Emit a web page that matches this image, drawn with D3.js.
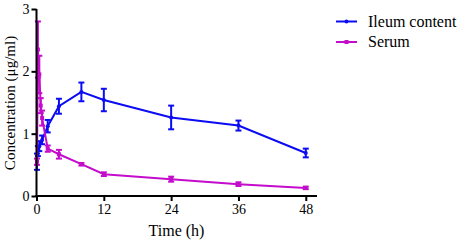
<!DOCTYPE html>
<html>
<head>
<meta charset="utf-8">
<script src="https://cdn.jsdelivr.net/npm/d3@7"></script>
</head>
<body style="margin:0;background:#fff">
<div id="graf"></div>
<script>
// Datos
const ileumTime = [0.083, 0.25, 0.5, 1, 2, 4, 8, 12, 24, 36, 48]
const ileumConc = [0.55, 0.72, 0.8, 0.9, 1.12, 1.44, 1.67, 1.54, 1.26, 1.13, 0.69]
const ileumErr = [0.13, 0.08, 0.08, 0.07, 0.1, 0.12, 0.15, 0.18, 0.19, 0.08, 0.07]

const serumTime = [0.083, 0.25, 0.5, 0.75, 1, 2, 4, 8, 12, 24, 36, 48]
const serumConc = [0.55, 2.35, 1.95, 1.45, 1.25, 0.76, 0.67, 0.51, 0.35, 0.27, 0.19, 0.13]
const serumErr = [0.05, 0.45, 0.3, 0.12, 0.12, 0.05, 0.07, 0.02, 0.03, 0.04, 0.03, 0.02]

const xTicks = [0, 12, 24, 36, 48]
const yTicks = [0, 1, 2, 3]

const series = [
  { name: "Ileum content", color: "#0c0cf2", marker: "circle", t: ileumTime, v: ileumConc, e: ileumErr },
  { name: "Serum", color: "#c40ccc", marker: "square", t: serumTime, v: serumConc, e: serumErr },
]

const fuente = "Liberation Serif"

// Dimensiones
const ancho = 459
const alto = 243

const svg = d3.select("#graf").append("svg")
  .attr("width", ancho)
  .attr("height", alto)

const x = d3.scaleLinear().domain([0, 50]).range([36.5, 317])
const y = d3.scaleLinear().domain([0, 3]).range([196, 9])

// Series
series.forEach(s => {
  const pts = s.t.map((t, i) => ({ t, v: s.v[i], e: s.e[i] }))
  const g = svg.append("g")

  const line = d3.line().x(d => x(d.t)).y(d => y(d.v))
  g.append("path")
    .datum(pts)
    .attr("d", line)
    .attr("fill", "none")
    .attr("stroke", s.color)
    .attr("stroke-width", 2)

  const eb = g.selectAll(".eb").data(pts).enter().append("g")
  eb.append("line")
    .attr("x1", d => x(d.t)).attr("x2", d => x(d.t))
    .attr("y1", d => y(d.v - d.e)).attr("y2", d => y(d.v + d.e))
    .attr("stroke", s.color).attr("stroke-width", 2)
  ;[-1, 1].forEach(k => {
    eb.append("line")
      .attr("x1", d => x(d.t) - 3).attr("x2", d => x(d.t) + 3)
      .attr("y1", d => y(d.v + k * d.e)).attr("y2", d => y(d.v + k * d.e))
      .attr("stroke", s.color).attr("stroke-width", 2)
  })

  if (s.marker == "circle") {
    g.selectAll("circle").data(pts).enter().append("circle")
      .attr("cx", d => x(d.t)).attr("cy", d => y(d.v))
      .attr("r", 2).attr("fill", s.color)
  } else {
    g.selectAll("rect").data(pts).enter().append("rect")
      .attr("x", d => x(d.t) - 2).attr("y", d => y(d.v) - 2)
      .attr("width", 4).attr("height", 4).attr("fill", s.color)
  }
})

// Ejes
const xAxis = d3.axisBottom(x).tickValues(xTicks).tickSize(5).tickPadding(3).tickFormat(d3.format("d"))
const yAxis = d3.axisLeft(y).tickValues(yTicks).tickSize(5).tickPadding(2).tickFormat(d3.format("d"))

const xg = svg.append("g").attr("transform", "translate(0,196)").call(xAxis)
const yg = svg.append("g").attr("transform", "translate(36.5,0)").call(yAxis)

;[xg, yg].forEach(a => {
  a.select(".domain").attr("stroke", "#000").attr("stroke-width", 2)
  a.selectAll(".tick line").attr("stroke", "#000").attr("stroke-width", 2)
  a.selectAll(".tick text")
    .style("font-family", fuente)
    .style("font-size", "14px")
    .attr("fill", "#000")
})
xg.select(".domain").attr("d", "M35.5,0H317")
yg.select(".domain").attr("d", "M0,9V197")

// Títulos
svg.append("text")
  .attr("x", 176.5)
  .attr("y", 236)
  .attr("text-anchor", "middle")
  .style("font-family", fuente)
  .style("font-size", "16px")
  .text("Time (h)")

svg.append("text")
  .attr("transform", "translate(15,103) rotate(-90)")
  .attr("text-anchor", "middle")
  .style("font-family", fuente)
  .style("font-size", "15px")
  .text("Concentration (μg/ml)")

// Leyenda
const leyenda = svg.append("g")
series.forEach((s, i) => {
  const ly = 21.5 + i * 20.5
  leyenda.append("line")
    .attr("x1", 336).attr("x2", 357).attr("y1", ly).attr("y2", ly)
    .attr("stroke", s.color).attr("stroke-width", 2)
  if (s.marker == "circle") {
    leyenda.append("circle").attr("cx", 346.5).attr("cy", ly).attr("r", 2).attr("fill", s.color)
  } else {
    leyenda.append("rect").attr("x", 344.5).attr("y", ly - 2).attr("width", 4).attr("height", 4).attr("fill", s.color)
  }
  leyenda.append("text")
    .attr("x", 368).attr("y", ly + 5)
    .style("font-family", fuente)
    .style("font-size", "16px")
    .text(s.name)
})
</script>
</body>
</html>
